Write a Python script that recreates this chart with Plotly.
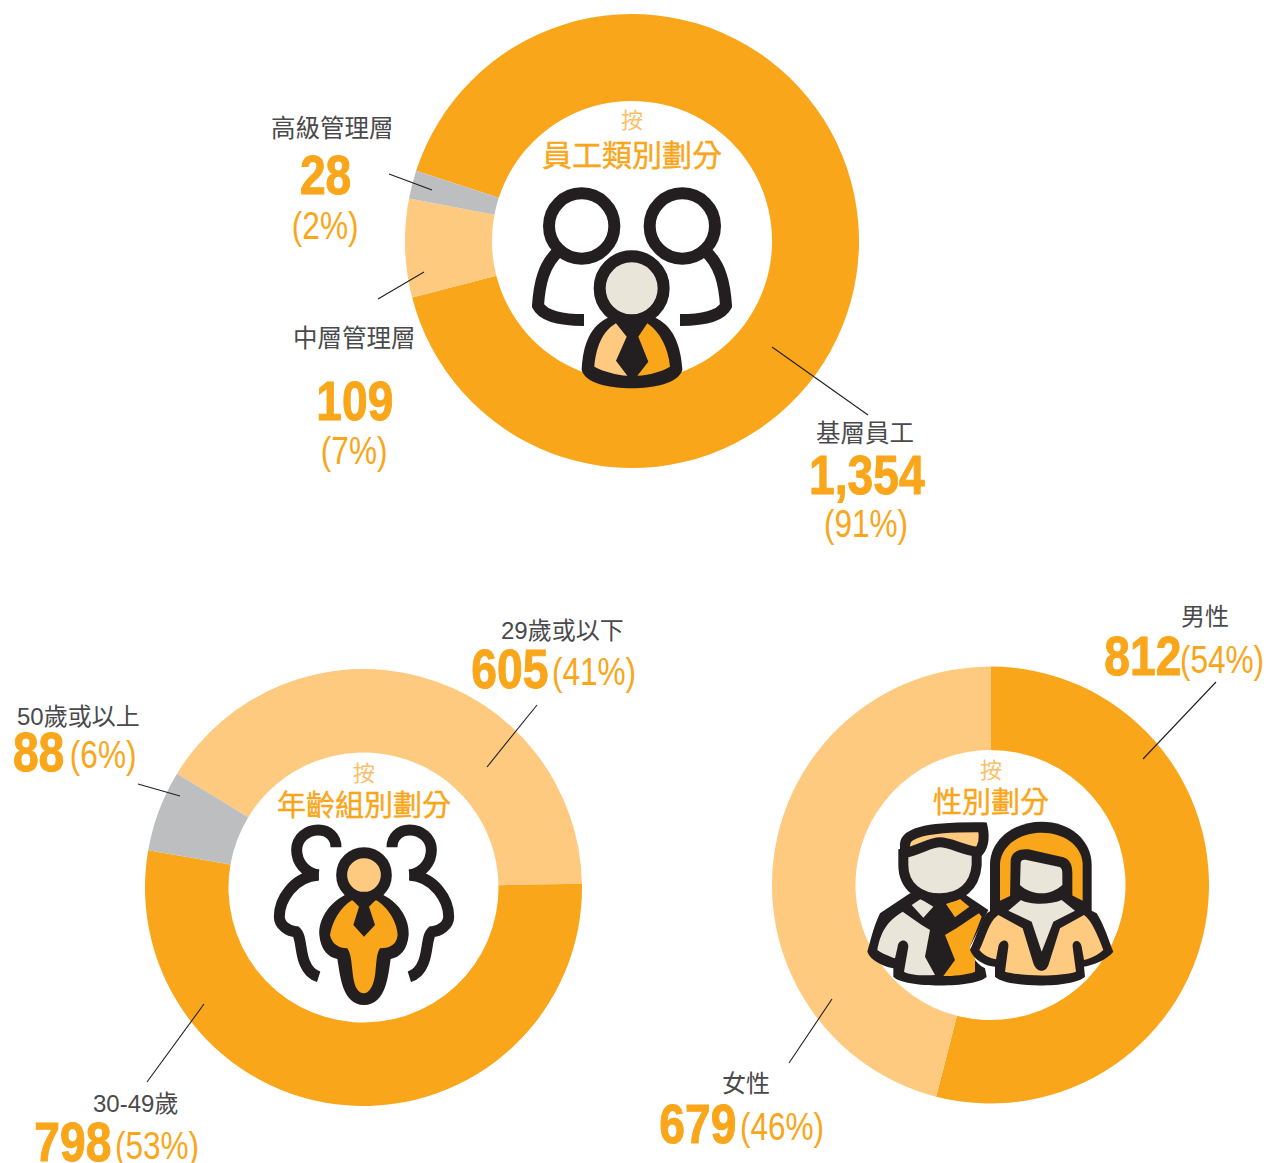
import re
import plotly.graph_objects as go

W, H = 1266, 1163
ORANGE, LIGHT, GREY = "#f9a61a", "#fdca7f", "#bcbec0"
DARK, CREAM = "#231f20", "#e9e5d9"
LABEL = "#4a4a4c"
CJK = "Liberation Sans, Noto Sans CJK TC, sans-serif"
NUM = "Liberation Sans, sans-serif"

# ---------- data ----------
staff_labels = ["基層員工", "中層管理層", "高級管理層"]
staff_values = [1354, 109, 28]
staff_pct = [91, 7, 2]

age_labels = ["29歲或以下", "30-49歲", "50歲或以上"]
age_values = [605, 798, 88]
age_pct = [41, 53, 6]

sex_labels = ["男性", "女性"]
sex_values = [812, 679]
sex_pct = [54, 46]

fig = go.Figure()


def donut(labels, values, colors, cx, cy, R, hole, rotation):
    fig.add_trace(go.Pie(
        labels=labels, values=values, sort=False, direction="clockwise",
        rotation=rotation, hole=hole, textinfo="none", showlegend=False,
        marker=dict(colors=colors, line=dict(width=0)),
        domain=dict(x=[(cx - R) / W, (cx + R) / W],
                    y=[1 - (cy + R) / H, 1 - (cy - R) / H]),
    ))


# the reference's arcs follow the rounded percentages
donut(staff_labels, staff_pct, [ORANGE, LIGHT, GREY], 632, 241, 227, 0.617, 288)
donut(age_labels, age_pct, [LIGHT, ORANGE, GREY], 363.5, 887.5, 218.5, 0.618, 301.4)
donut(sex_labels, sex_pct, [ORANGE, LIGHT], 990.5, 885, 218.5, 0.618, 0)

shapes = []
annotations = []


def px(x, y):
    return x / W, 1 - y / H


def line(x0, y0, x1, y1):
    a, b = px(x0, y0)
    c, d = px(x1, y1)
    shapes.append(dict(type="line", xref="paper", yref="paper", x0=a, y0=b, x1=c, y1=d,
                       line=dict(color=DARK, width=1.1), layer="above"))


def icon(ox, oy, d, fill=None, stroke=None, sw=0, mirror=None):
    """d is a path in 3x zoomed icon coordinates; turned into paper coordinates."""
    nums = iter(re.findall(r"[A-Za-z]|-?\d+\.?\d*", d))
    out = []
    for tok in nums:
        if tok.isalpha():
            out.append(tok)
        else:
            xv = float(tok)
            yv = float(next(nums))
            if mirror is not None:
                xv = mirror - xv
            a, b = px(ox + xv / 3, oy + yv / 3)
            out.append(f"{a:.5f},{b:.5f}")
    shapes.append(dict(type="path", xref="paper", yref="paper", path=" ".join(out),
                       fillcolor=fill if fill else "rgba(0,0,0,0)",
                       line=dict(color=stroke if stroke else "rgba(0,0,0,0)", width=sw),
                       layer="above"))


def circle_path(cx, cy, r):
    k = 0.5523 * r
    return (f"M {cx-r} {cy} C {cx-r} {cy-k} {cx-k} {cy-r} {cx} {cy-r} "
            f"C {cx+k} {cy-r} {cx+r} {cy-k} {cx+r} {cy} "
            f"C {cx+r} {cy+k} {cx+k} {cy+r} {cx} {cy+r} "
            f"C {cx-k} {cy+r} {cx-r} {cy+k} {cx-r} {cy} Z")


def text(x, y, s, size, color, family=CJK, weight=None):
    a, b = px(x, y)
    f = dict(size=size, color=color, family=family)
    if weight:
        f["weight"] = weight
    annotations.append(dict(x=a, y=b, xref="paper", yref="paper", text=s, showarrow=False,
                            xanchor="center", yanchor="middle", font=f, borderpad=0))


def number(x, y, v):
    text(x, y - 2, f"{v:,}", 55, ORANGE, NUM, 700)


def pct(x, y, v):
    text(x, y - 1, f"({v}%)", 39, ORANGE, NUM)


# ---------- leader lines ----------
line(389, 174, 432, 190)
line(378, 299, 424, 272)
line(772, 347, 868, 415)
line(537, 705, 487, 767)
line(138, 784, 180, 796)
line(147, 1082, 204, 1004)
line(1216, 682, 1143, 759)
line(832, 999, 789, 1063)

# ---------- icon 1: staff ----------
ox, oy = 510, 95
for m in (None, 732):
    icon(ox, oy, "M 150 465 C 100 505 88 570 84 632 C 100 665 160 675 222 675", None, DARK, 12, m)
    icon(ox, oy, circle_path(215, 393, 98), "#ffffff", DARK, 12, m)
icon(ox, oy, "M 300 665 C 240 690 218 750 215 825 C 225 865 300 880 365 880 "
             "C 430 880 505 865 517 825 C 512 750 490 690 430 665 Z", DARK)
icon(ox, oy, "M 318 685 L 350 725 L 318 797 L 352 842 C 320 840 280 830 253 815 "
             "C 258 760 275 710 318 685 Z", LIGHT)
icon(ox, oy, "M 412 685 L 385 725 L 415 800 L 382 842 C 420 840 455 830 480 815 "
             "C 475 760 450 710 412 685 Z", ORANGE)
icon(ox, oy, circle_path(365, 580, 96), CREAM, DARK, 12)

# ---------- icon 2: age ----------
ox, oy = 260, 760
for m in (None, 624):
    icon(ox, oy, "M 228 262 C 228 230 205 210 175 210 C 140 210 110 235 110 270 "
                 "C 110 305 135 340 176 345", None, DARK, 11, m)
    icon(ox, oy, "M 176 345 C 100 350 58 420 58 470 C 58 495 85 515 108 515 "
                 "C 125 530 120 580 135 610 C 145 635 160 645 176 650", None, DARK, 11, m)
icon(ox, oy, "M 255 405 C 205 430 175 480 178 525 C 182 570 205 592 232 597 "
             "C 240 640 245 735 312 735 C 380 735 385 640 392 597 "
             "C 420 592 442 570 446 525 C 449 480 420 430 370 405 Z", DARK)
icon(ox, oy, "M 277 420 L 297 440 L 280 495 L 312 530 L 345 495 L 327 440 L 347 420 "
             "C 385 440 412 490 413 525 C 410 550 395 565 360 565 "
             "C 350 580 350 600 346 640 C 340 685 325 700 312 700 "
             "C 295 700 283 685 278 640 C 274 600 272 580 262 565 "
             "C 235 565 215 550 210 525 C 215 490 240 440 277 420 Z", ORANGE)
icon(ox, oy, circle_path(312, 345, 67), LIGHT, DARK, 11)

# ---------- icon 3: gender ----------
ox, oy = 860, 750
# man
icon(ox, oy, "M 150 430 L 60 490 C 40 530 30 580 22 605 C 30 630 70 650 100 655 "
             "L 100 680 C 130 715 350 715 380 680 L 375 655 C 345 640 330 610 330 590 "
             "L 385 480 L 310 430 Z", DARK)
icon(ox, oy, "M 128 485 L 185 525 L 210 540 L 195 620 L 225 675 C 190 678 150 675 132 665 "
             "L 145 590 C 145 565 115 565 113 590 L 105 625 C 90 620 65 610 52 600 "
             "C 60 560 70 520 128 485 Z", CREAM)
icon(ox, oy, "M 155 465 L 182 447 L 220 470 L 190 503 Z", CREAM)
icon(ox, oy, "M 258 462 L 300 447 L 328 470 L 285 502 Z", ORANGE)
icon(ox, oy, "M 357 490 L 365 500 L 330 590 C 335 610 345 620 345 620 L 345 665 "
             "C 320 675 280 678 250 678 L 285 630 L 255 555 L 280 540 "
             "C 300 530 340 500 357 490 Z", ORANGE)
icon(ox, oy, "M 135 290 C 130 250 190 230 368 232 C 375 265 370 295 350 310 L 135 310 Z", LIGHT, DARK, 10)
icon(ox, oy, "M 130 310 C 180 300 210 277 240 277 C 270 277 310 300 350 305 L 350 345 "
             "C 345 410 300 445 240 445 C 180 445 130 410 130 345 Z", CREAM, DARK, 10)
# woman
icon(ox, oy, "M 390 490 L 390 345 C 390 270 460 215 545 215 C 630 215 695 270 695 345 L 695 490 Z", DARK)
icon(ox, oy, "M 420 452 L 420 340 C 425 285 480 248 545 248 C 610 248 665 285 668 340 L 668 452 L 640 438 "
             "L 450 438 Z", ORANGE)
icon(ox, oy, "M 420 465 L 380 490 C 355 530 345 570 330 600 C 340 630 380 650 405 650 L 405 680 "
             "C 440 715 640 715 675 680 L 672 650 C 700 645 740 630 760 605 "
             "C 745 570 735 530 710 490 L 660 465 L 545 430 Z", DARK)
icon(ox, oy, "M 452 335 C 452 305 480 295 505 298 L 610 322 C 630 328 637 345 637 370 "
             "L 637 430 L 640 460 L 450 460 Z", DARK)
icon(ox, oy, "M 482 340 C 482 330 490 328 500 330 L 595 350 C 605 352 607 360 607 370 L 607 405 "
             "C 590 420 570 430 545 430 C 520 430 495 420 480 405 Z", CREAM)
icon(ox, oy, "M 483 450 C 510 465 570 465 605 450 L 645 482 L 580 515 L 545 605 L 515 515 L 445 482 Z", CREAM)
icon(ox, oy, "M 415 495 L 488 535 L 520 640 C 530 670 560 670 567 640 L 600 535 L 672 495 "
             "C 695 510 715 560 730 600 C 720 610 695 625 672 630 L 665 590 C 660 565 635 570 638 590 "
             "L 648 665 C 600 680 490 680 435 665 L 445 590 C 448 565 420 565 415 590 L 408 628 "
             "C 390 625 370 615 358 600 C 375 570 385 515 415 495 Z", LIGHT)

# ---------- titles ----------
text(632, 121, "按", 22, "#fbbf6a")
text(632, 155, "員工類別劃分", 30, ORANGE)
text(364, 773, "按", 22, "#fbbf6a")
text(364, 806, "年齡組別劃分", 29, ORANGE)
text(991, 770, "按", 22, "#fbbf6a")
text(991, 803, "性別劃分", 29, ORANGE)

# ---------- labels: staff ----------
text(332, 128, staff_labels[2], 24.5, LABEL)
number(325, 177, staff_values[2])
pct(325, 226, staff_pct[2])
text(354, 338, staff_labels[1], 24.5, LABEL)
number(355, 403, staff_values[1])
pct(354, 451, staff_pct[1])
text(865, 434, staff_labels[0], 24.5, LABEL)
number(867, 477, staff_values[0])
pct(866, 524, staff_pct[0])

# ---------- labels: age ----------
text(562, 630, age_labels[0], 24, LABEL)
number(510, 671, age_values[0])
pct(594, 672, age_pct[0])
text(78, 716, age_labels[2], 24, LABEL)
number(38, 754, age_values[2])
pct(103, 755, age_pct[2])
text(135, 1103, age_labels[1], 24, LABEL)
number(73, 1144, age_values[1])
pct(157, 1146, age_pct[1])

# ---------- labels: gender ----------
text(1205, 616, sex_labels[0], 24, LABEL)
number(1143, 658, sex_values[0])
pct(1222, 660, sex_pct[0])
text(746, 1083, sex_labels[1], 24, LABEL)
number(698, 1126, sex_values[1])
pct(782, 1127, sex_pct[1])

fig.update_layout(width=W, height=H, margin=dict(l=0, r=0, t=0, b=0),
                  paper_bgcolor="#ffffff", plot_bgcolor="#ffffff",
                  shapes=shapes, annotations=annotations)

# No condensed face is installed: narrow the number texts horizontally, keeping them real text.
post = """
document.body.style.margin='0';document.body.style.overflow='hidden';
document.querySelectorAll('.annotation-text').forEach(function(t){
  var s=t.textContent, num=/^[0-9,]+$/.test(s), pc=/^\\([0-9]+%\\)$/.test(s);
  if(num||pc){
    t.style.transformBox='fill-box';t.style.transformOrigin='center';
    t.style.transform=num?'scaleX(0.84)':'scaleX(0.81)';
    if(num){t.style.stroke='#f9a61a';t.style.strokeWidth='1px';}
  } else if(/劃分$/.test(s)){
    t.style.stroke='#f9a61a';t.style.strokeWidth='0.4px';
  }
});
"""
fig.write_html("out.html", config={"displayModeBar": False}, post_script=post)
